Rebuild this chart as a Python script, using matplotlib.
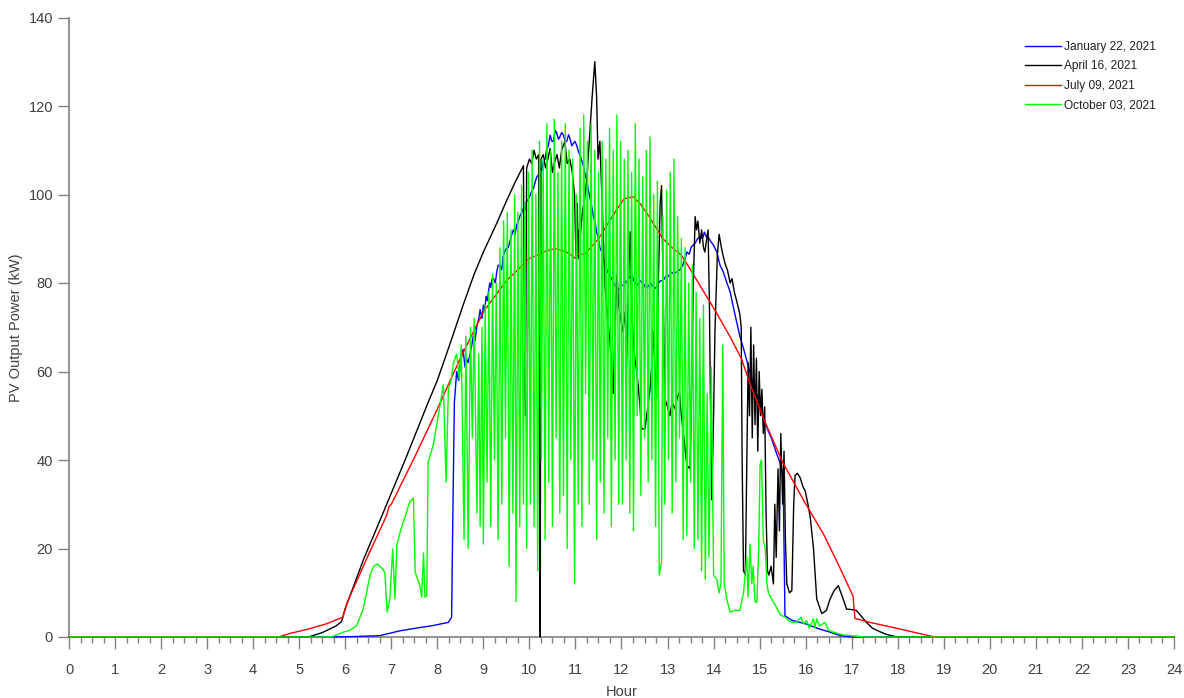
import matplotlib
matplotlib.use("Agg")
import matplotlib.pyplot as plt
from matplotlib.ticker import MultipleLocator

# ---------------- data (hour, kW) ----------------
jan_hours = [0, 5.7, 6.2, 6.75, 7.19, 7.6, 7.91, 8.24, 8.31, 8.34, 8.37, 8.42, 8.46, 8.5, 8.56, 8.6,
             8.63, 8.67, 8.71, 8.75, 8.78, 8.82, 8.86, 8.9, 8.93, 8.97, 9.0, 9.03, 9.06, 9.09, 9.11,
             9.14, 9.16, 9.19, 9.22, 9.26, 9.29, 9.32, 9.36, 9.4, 9.43, 9.46, 9.5, 9.54, 9.58, 9.62,
             9.65, 9.69, 9.72, 9.76, 9.8, 9.84, 9.87, 9.9, 9.94, 9.98, 10.02, 10.06, 10.09, 10.13,
             10.16, 10.2, 10.23, 10.27, 10.3, 10.34, 10.37, 10.41, 10.45, 10.49, 10.52, 10.56, 10.59,
             10.63, 10.66, 10.7, 10.74, 10.78, 10.81, 10.85, 10.88, 10.92, 10.95, 10.99, 11.03, 11.07,
             11.1, 11.14, 11.17, 11.21, 11.25, 11.28, 11.32, 11.36, 11.39, 11.43, 11.46, 11.5, 11.53,
             11.57, 11.6, 11.65, 11.7, 11.76, 11.82, 11.86, 11.9, 11.94, 11.97, 12.01, 12.05, 12.09,
             12.12, 12.16, 12.2, 12.23, 12.26, 12.3, 12.35, 12.4, 12.47, 12.52, 12.58, 12.63, 12.69,
             12.74, 12.8, 12.85, 12.91, 12.96, 13.02, 13.07, 13.13, 13.2, 13.27, 13.33, 13.38, 13.42,
             13.47, 13.51, 13.55, 13.6, 13.65, 13.71, 13.76, 13.8, 13.84, 13.88, 13.93, 14.0, 14.07,
             14.14, 14.21, 14.29, 14.36, 14.43, 14.5, 14.57, 14.65, 14.72, 14.79, 14.86, 14.94, 15.01,
             15.08, 15.17, 15.26, 15.35, 15.44, 15.51, 15.55, 15.7, 16.02, 16.3, 16.53, 16.75, 17.0, 24]
jan_kw = [0, 0, 0.1, 0.3, 1.4, 2.1, 2.6, 3.3, 4.5, 30, 53, 60, 58, 62, 65, 61,
          63, 62, 64, 66, 68, 67, 70.4, 72, 74, 72, 75, 74, 77, 76, 78,
          80, 79, 81, 81, 80, 82.5, 84, 84, 83, 86, 87, 87.8, 88, 89.5, 91,
          92, 91, 93, 94, 95.3, 96, 97, 96.5, 98.5, 99, 100, 101, 101.4, 103,
          104, 104.5, 106, 105.5, 107.4, 108, 110, 111, 113.4, 112, 112, 114.5, 114,
          112.5, 113, 114, 113.4, 112, 112, 113.5, 112.7, 111, 111.5, 112, 111, 109.5,
          109, 107.5, 106.6, 104.5, 103, 101, 99, 97, 95, 93.5, 91.5, 90, 88,
          87, 85.5, 84, 82.5, 81.5, 80.2, 79.5, 79, 78.5, 78.7, 79.5, 79.5, 80.5,
          80, 81.5, 81, 82, 80.6, 80, 79.5, 80.5, 79.9, 79, 79.2, 80, 79.1,
          78.8, 80, 80.5, 80.6, 81.5, 81.5, 82.5, 82.1, 82.5, 83, 84, 85.5, 87,
          86.5, 88, 88.5, 89, 90, 90.4, 90, 91.5, 90.5, 90.5, 89.5, 88.5, 87,
          84, 82.5, 80, 78, 74.5, 71.2, 68, 65.2, 62.5, 59.9, 57, 54.6, 52,
          49.3, 47, 44.8, 42, 39.5, 36.5, 4.8, 3.8, 2.9, 1.8, 1.1, 0.3, 0, 0]

apr_hours = [0, 5.2, 5.5, 5.8, 5.92, 6.0, 6.2, 6.4, 6.7, 7.0, 7.3, 7.55, 7.8, 8.0, 8.3, 8.56, 8.8,
             9.0, 9.29, 9.5, 9.7, 9.87, 9.89, 9.91, 9.94, 10.0, 10.05, 10.1, 10.15, 10.2, 10.22, 10.235,
             10.25, 10.3, 10.35, 10.4, 10.45, 10.5, 10.55, 10.6, 10.65, 10.7, 10.77, 10.82, 10.88,
             10.93, 10.98, 11.01, 11.04, 11.06, 11.08, 11.1, 11.15, 11.2, 11.25, 11.3, 11.36, 11.42,
             11.46, 11.49, 11.53, 11.58, 11.64, 11.7, 11.75, 11.79, 11.82, 11.86, 11.9, 11.94, 11.97,
             12.03, 12.08, 12.11, 12.15, 12.19, 12.22, 12.25, 12.29, 12.33, 12.37, 12.44, 12.51, 12.57,
             12.62, 12.66, 12.69, 12.73, 12.76, 12.8, 12.84, 12.87, 12.91, 12.94, 13.0, 13.05, 13.1,
             13.16, 13.21, 13.26, 13.3, 13.34, 13.42, 13.49, 13.52, 13.56, 13.6, 13.63, 13.66, 13.7,
             13.74, 13.78, 13.81, 13.85, 13.88, 13.91, 13.93, 13.96, 14.0, 14.03, 14.08, 14.12, 14.17,
             14.21, 14.26, 14.3, 14.36, 14.4, 14.45, 14.5, 14.57, 14.6, 14.62, 14.65, 14.69, 14.72,
             14.75, 14.78, 14.81, 14.84, 14.87, 14.9, 14.93, 14.96, 14.99, 15.02, 15.05, 15.08, 15.11,
             15.14, 15.17, 15.2, 15.25, 15.3, 15.33, 15.36, 15.4, 15.43, 15.46, 15.5, 15.53, 15.56,
             15.59, 15.65, 15.7, 15.74, 15.77, 15.82, 15.88, 15.94, 15.99, 16.05, 16.1, 16.17, 16.24,
             16.35, 16.45, 16.53, 16.62, 16.71, 16.8, 16.89, 17.0, 17.1, 17.2, 17.32, 17.45, 17.61,
             17.75, 17.9, 18.0, 24]
apr_kw = [0, 0, 1, 2.5, 3.5, 6.5, 12, 17.6, 25, 32.5, 40, 46.5, 53, 58, 67, 75, 82,
          87, 93.5, 98.5, 103, 106.5, 75, 50, 106, 108, 107, 110, 108, 109, 40, 0,
          108, 109, 106, 108, 110.4, 105, 107.4, 109, 106, 110, 112, 107, 108,
          105, 100, 86, 98, 85.5, 92, 90, 96, 99, 104, 112, 121.7, 130,
          122, 108, 112, 98, 79.5, 72, 66.7, 60, 55, 70, 82, 75, 72.7,
          69, 73.5, 61.4, 80, 91.6, 75, 68, 62.9, 60, 56, 47, 47, 52,
          56, 62, 69, 60, 54, 80, 98, 102, 75, 54, 52, 50, 53,
          51.6, 54, 55.4, 50, 46.4, 38.8, 38, 54, 80, 95, 92, 94, 89,
          92, 88, 87, 90, 92, 75, 55, 31, 50, 69, 86, 91, 88,
          86, 84, 83, 80, 81, 78, 76, 73, 70, 40, 15, 14, 38,
          62, 50, 70, 45, 66, 48, 63, 42, 60, 50, 56, 46, 52,
          28, 15, 14, 16, 12, 30, 18, 38, 24, 46, 30, 42, 22,
          12, 10, 10.5, 30, 36.5, 37, 36, 34, 33, 30, 27, 20, 8.6,
          5.3, 6, 8.6, 10.5, 11.6, 9, 6.3, 6.2, 6.0, 4.8, 3.3, 2, 1.2,
          0.6, 0.2, 0, 0]

jul_hours = [0, 4.55, 4.8, 5.2, 5.6, 5.95, 6.05, 6.5, 6.9, 6.95, 7.0, 7.5, 8.0, 8.5, 9.0, 9.5,
             10.0, 10.3, 10.55, 10.8, 10.95, 11.0, 11.05, 11.2, 11.5, 11.8, 12.05, 12.25, 12.4,
             12.6, 12.9, 13.1, 13.3, 13.5, 13.7, 14.05, 14.35, 14.6, 14.8, 15.1, 15.5, 15.95,
             16.4, 16.75, 17.03, 17.07, 17.4, 18.05, 18.8, 24]
jul_kw = [0, 0, 0.8, 1.8, 3.0, 4.5, 8.0, 18.5, 27.5, 29.5, 30, 40.5, 51.5, 63, 73.5, 80.5,
          85.5, 87, 87.8, 87, 86, 85.5, 86.5, 86.5, 90, 95, 99, 99.5, 98,
          95, 90, 88, 86.3, 83, 79.5, 73.5, 68, 63, 57, 49, 39.5, 31,
          23, 15.5, 9.2, 4.2, 3.3, 1.8, 0, 0]

oct_hours = [0, 5.7, 5.96, 6.1, 6.25, 6.39, 6.54, 6.62, 6.7, 6.8, 6.86, 6.91, 6.97, 7.03, 7.08,
             7.12, 7.2, 7.3, 7.4, 7.48, 7.52, 7.62, 7.66, 7.7, 7.73, 7.77, 7.8, 7.91, 8.02, 8.13,
             8.19, 8.24, 8.3, 8.35, 8.42, 8.48, 8.52,
             8.58, 8.62, 8.67, 8.72, 8.76, 8.8, 8.86, 8.9, 8.93, 8.97, 9.0, 9.04, 9.08, 9.12, 9.16,
             9.2, 9.24, 9.28, 9.32, 9.36, 9.4, 9.44, 9.48, 9.52, 9.56, 9.6, 9.64, 9.68, 9.71, 9.75,
             9.79, 9.83, 9.87, 9.9, 9.94, 9.98, 10.02, 10.06, 10.1, 10.14, 10.18, 10.22, 10.26, 10.3,
             10.34, 10.38, 10.42, 10.46, 10.5, 10.54, 10.58, 10.62, 10.66, 10.7, 10.74, 10.78, 10.82,
             10.86, 10.9, 10.94, 10.98, 11.02, 11.06, 11.1, 11.14, 11.18, 11.22, 11.26, 11.3, 11.34,
             11.38, 11.42, 11.46, 11.5, 11.54, 11.58, 11.62, 11.66, 11.7, 11.74, 11.78, 11.82, 11.86,
             11.9, 11.94, 11.98, 12.02, 12.06, 12.1, 12.14, 12.18, 12.22, 12.26, 12.3, 12.34, 12.38,
             12.42, 12.46, 12.5, 12.54, 12.58, 12.62, 12.66, 12.7, 12.74, 12.78, 12.82, 12.87, 12.9,
             12.94, 12.98, 13.02, 13.06, 13.1, 13.14, 13.18, 13.22, 13.26, 13.3, 13.34, 13.38, 13.42,
             13.46, 13.5, 13.54, 13.58, 13.62, 13.66, 13.7, 13.74, 13.78, 13.82, 13.86, 13.9, 13.95,
             14.0, 14.07, 14.12, 14.16, 14.2, 14.23, 14.3, 14.36, 14.45, 14.57, 14.65, 14.72, 14.75,
             14.79, 14.83, 14.86, 14.9, 14.94, 14.98, 15.01, 15.04, 15.08, 15.12, 15.16, 15.19, 15.26,
             15.35, 15.45, 15.55, 15.65, 15.8, 15.9, 15.95, 16.02, 16.08, 16.17, 16.2, 16.24, 16.3,
             16.42, 16.5, 16.6, 16.8, 17.1, 17.3, 24]
oct_kw = [0, 0, 1.1, 1.5, 2.6, 6.3, 14, 16, 16.5, 15.5, 14.6, 5.6, 8.6, 19.9, 8.6,
          20.7, 24, 27.2, 30.5, 31.4, 14.6, 11.6, 9, 19, 9, 9.3, 39.5, 43.3, 50, 57,
          35, 56, 58, 62, 64, 58, 66,
          22, 68, 20, 70, 45, 72, 28, 64, 25, 70, 21, 75, 35, 78, 25,
          82, 40, 80, 22, 88, 30, 94, 45, 96, 16, 92, 28, 100, 8, 96,
          25, 102, 30, 98, 20, 105, 30, 110, 25, 100, 15, 112, 40, 108,
          22, 116, 35, 110, 25, 117, 45, 105, 28, 112, 32, 116, 20,
          110, 40, 108, 12, 100, 30, 115, 25, 118, 55, 112, 30, 116,
          40, 110, 22, 105, 35, 112, 28, 108, 45, 115, 25, 110, 40,
          118, 30, 112, 30, 108, 40, 110, 28, 105, 24, 116, 50, 108,
          32, 104, 45, 110, 35, 113, 40, 100, 25, 103, 14, 17, 95,
          30, 101, 40, 105, 28, 108, 35, 95, 45, 90, 22, 88, 23,
          80, 35, 84, 20, 78, 22, 72, 15, 75, 13, 55, 18, 61,
          14, 13, 10, 12, 66, 12, 8, 5.6, 6, 6, 10, 18, 9,
          21, 12, 16, 8, 7.8, 20, 39, 40, 22, 20, 12, 10, 8.6,
          7, 5, 4.5, 3.5, 3.3, 4.5, 3, 3.7, 2, 4.1, 2, 4.1, 2.5,
          3.3, 1.5, 1.1, 0.5, 0.2, 0, 0]

series_labels = ["January 22, 2021", "April 16, 2021", "July 09, 2021", "October 03, 2021"]
series_colors = ["#0000ff", "#000000", "#ff0000", "#00ff00"]
x_ticks = list(range(0, 25))
y_ticks = [0, 20, 40, 60, 80, 100, 120, 140]

# ---------------- figure ----------------
plt.rcParams['font.family'] = ['Liberation Sans', 'DejaVu Sans']
fig = plt.figure(figsize=(11.84, 6.98), dpi=100)
ax = fig.add_axes([69 / 1184, 61 / 698, 1105 / 1184, 619.5 / 698])

data = [(jan_hours, jan_kw), (apr_hours, apr_kw), (jul_hours, jul_kw), (oct_hours, oct_kw)]
for (h, v), lab, col in zip(data, series_labels, series_colors):
    ax.plot(h, v, color=col, lw=1.0, label=lab, zorder=3, clip_on=False)

ax.set_xlim(0, 24)
ax.set_ylim(0, 140)
ax.set_xticks(x_ticks)
ax.set_yticks(y_ticks)
ax.xaxis.set_minor_locator(MultipleLocator(0.25))

for s in ["top", "right"]:
    ax.spines[s].set_visible(False)
for s in ["left", "bottom"]:
    ax.spines[s].set_color("#808080")
    ax.spines[s].set_linewidth(1.2)

tc = "#404040"
ax.tick_params(axis="x", which="major", direction="out", length=8.5, width=1.0,
               color="#808080", labelsize=10.5, labelcolor=tc, pad=10)
ax.tick_params(axis="x", which="minor", direction="out", length=4, width=1.0, color="#808080")
ax.tick_params(axis="y", which="major", direction="out", length=8, width=1.0,
               color="#808080", labelsize=10.5, labelcolor=tc, pad=3.5)

ax.set_xlabel("Hour", fontsize=10.5, color=tc, labelpad=6)
ax.set_ylabel("PV Output Power (kW)", fontsize=10.5, color=tc, labelpad=4)

leg = fig.legend(loc="upper left", bbox_to_anchor=(1025 / 1184, 1 - 41 / 698),
                 frameon=False, fontsize=8.6, handlelength=3.0, handletextpad=0.3,
                 labelspacing=0.62, borderpad=0, borderaxespad=0)
for t in leg.get_texts():
    t.set_color("#202020")

fig.savefig("out.png", dpi=100)
